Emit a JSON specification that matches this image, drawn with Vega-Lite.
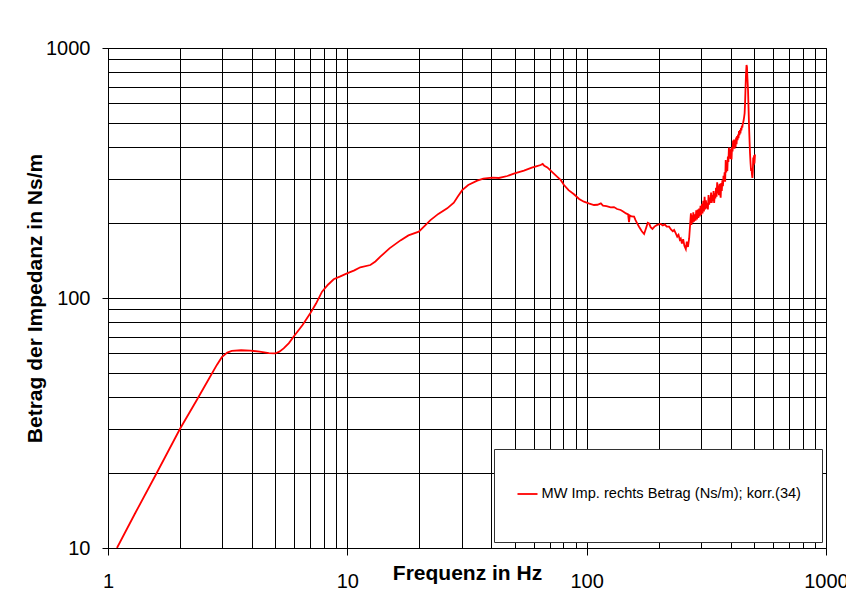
{
  "$schema": "https://vega.github.io/schema/vega-lite/v6.json",
  "width": 718,
  "height": 500,
  "autosize": {"type": "none"},
  "padding": {"left": 108, "top": 48, "right": 20, "bottom": 47},
  "background": "white",
  "config": {
    "font": "Liberation Sans",
    "view": {"stroke": "#000", "strokeWidth": 1},
    "axis": {"labelFont": "Liberation Sans", "titleFont": "Liberation Sans", "labelColor": "#000", "titleColor": "#000", "labelFontWeight": "normal"}
  },
  "data": {
    "values": [
      {"f": 1.09, "z": 10}, {"f": 1.3, "z": 13.8}, {"f": 1.6, "z": 20}, {"f": 2.0, "z": 30},
      {"f": 2.35, "z": 39.1}, {"f": 2.67, "z": 48.4}, {"f": 2.85, "z": 54}, {"f": 2.99, "z": 58},
      {"f": 3.15, "z": 60.5}, {"f": 3.29, "z": 61.4}, {"f": 3.6, "z": 61.8}, {"f": 3.93, "z": 61.6},
      {"f": 4.3, "z": 61}, {"f": 4.7, "z": 60.2}, {"f": 5.0, "z": 60}, {"f": 5.2, "z": 61},
      {"f": 5.42, "z": 62.9}, {"f": 5.7, "z": 66}, {"f": 5.96, "z": 70}, {"f": 6.5, "z": 78},
      {"f": 7.0, "z": 86.8}, {"f": 7.4, "z": 95}, {"f": 7.84, "z": 106}, {"f": 8.3, "z": 113},
      {"f": 8.77, "z": 118.8}, {"f": 9.35, "z": 122}, {"f": 9.97, "z": 125.5}, {"f": 10.7, "z": 129},
      {"f": 11.33, "z": 132.7}, {"f": 12.48, "z": 135.5}, {"f": 13.1, "z": 140}, {"f": 13.74, "z": 146.3},
      {"f": 15.0, "z": 158}, {"f": 16.67, "z": 170}, {"f": 18.0, "z": 178}, {"f": 19.89, "z": 184.2},
      {"f": 21.0, "z": 194}, {"f": 22.25, "z": 205}, {"f": 24.0, "z": 217}, {"f": 26.14, "z": 228.4},
      {"f": 27.86, "z": 240.5}, {"f": 29.0, "z": 255}, {"f": 30.2, "z": 270}, {"f": 32.0, "z": 283},
      {"f": 34.89, "z": 294.6}, {"f": 37.0, "z": 300}, {"f": 40.3, "z": 303}, {"f": 43.0, "z": 302},
      {"f": 46.6, "z": 307.6}, {"f": 50.0, "z": 315}, {"f": 54.7, "z": 323}, {"f": 59.0, "z": 332},
      {"f": 62.0, "z": 337}, {"f": 64.2, "z": 340.4}, {"f": 65.5, "z": 344}, {"f": 66.5, "z": 338},
      {"f": 68.5, "z": 333}, {"f": 72.0, "z": 318}, {"f": 75.4, "z": 305}, {"f": 78.0, "z": 296},
      {"f": 80.4, "z": 283}, {"f": 84.0, "z": 270}, {"f": 88.5, "z": 260}, {"f": 93.0, "z": 249},
      {"f": 97.4, "z": 242.8}, {"f": 102.0, "z": 239}, {"f": 107.3, "z": 235.5}, {"f": 111.0, "z": 236},
      {"f": 114.6, "z": 239}, {"f": 117.0, "z": 234}, {"f": 121.0, "z": 233}, {"f": 126.0, "z": 230.6},
      {"f": 130.0, "z": 231}, {"f": 134.0, "z": 227}, {"f": 138.7, "z": 224.9}, {"f": 142.0, "z": 222},
      {"f": 146.0, "z": 218}, {"f": 149.0, "z": 216}, {"f": 150.3, "z": 201}, {"f": 151.5, "z": 214},
      {"f": 154.0, "z": 212}, {"f": 157.8, "z": 211.5}, {"f": 160.0, "z": 205}, {"f": 163.0, "z": 198},
      {"f": 165.5, "z": 192.8}, {"f": 170.0, "z": 185}, {"f": 173.8, "z": 180.3}, {"f": 177.0, "z": 190},
      {"f": 180.0, "z": 200}, {"f": 182.3, "z": 198.9}, {"f": 185.0, "z": 192}, {"f": 188.3, "z": 189},
      {"f": 192.0, "z": 193}, {"f": 197.0, "z": 196}, {"f": 204.0, "z": 197.7}, {"f": 208.0, "z": 195},
      {"f": 212.0, "z": 197}, {"f": 216.0, "z": 193}, {"f": 221.0, "z": 192.8}, {"f": 225.0, "z": 188},
      {"f": 229.0, "z": 185}, {"f": 232.0, "z": 187}, {"f": 235.7, "z": 181.5}, {"f": 239.0, "z": 176},
      {"f": 242.0, "z": 179}, {"f": 245.0, "z": 171}, {"f": 247.3, "z": 173}, {"f": 250.0, "z": 165},
      {"f": 253.0, "z": 172}, {"f": 256.0, "z": 162}, {"f": 259.6, "z": 157}, {"f": 262.0, "z": 168},
      {"f": 265.0, "z": 160}, {"f": 268.0, "z": 173}, {"f": 270.5, "z": 196}, {"f": 272.6, "z": 218},
      {"f": 274, "z": 196}, {"f": 276, "z": 214}, {"f": 277.5, "z": 200}, {"f": 279, "z": 220},
      {"f": 281, "z": 202}, {"f": 283, "z": 216}, {"f": 285, "z": 204}, {"f": 287, "z": 224},
      {"f": 289, "z": 206}, {"f": 291, "z": 226}, {"f": 293, "z": 209}, {"f": 295, "z": 228},
      {"f": 297, "z": 212}, {"f": 299, "z": 234}, {"f": 301, "z": 215}, {"f": 303, "z": 238},
      {"f": 305, "z": 218}, {"f": 307, "z": 245}, {"f": 309, "z": 222}, {"f": 311, "z": 254},
      {"f": 313, "z": 226}, {"f": 315, "z": 246}, {"f": 317, "z": 228}, {"f": 319, "z": 240},
      {"f": 321, "z": 226}, {"f": 323, "z": 258}, {"f": 325, "z": 236}, {"f": 327, "z": 252},
      {"f": 329, "z": 240}, {"f": 331, "z": 264}, {"f": 333, "z": 240}, {"f": 335, "z": 258},
      {"f": 337, "z": 244}, {"f": 339, "z": 268}, {"f": 341, "z": 240}, {"f": 343, "z": 262},
      {"f": 345, "z": 250}, {"f": 347, "z": 276}, {"f": 349, "z": 254}, {"f": 351, "z": 290},
      {"f": 353, "z": 262}, {"f": 355, "z": 282}, {"f": 357, "z": 258}, {"f": 359, "z": 286},
      {"f": 361, "z": 262}, {"f": 363, "z": 252}, {"f": 365, "z": 288}, {"f": 367, "z": 268},
      {"f": 369, "z": 296}, {"f": 371, "z": 280}, {"f": 373, "z": 308}, {"f": 375, "z": 292},
      {"f": 377, "z": 318}, {"f": 379, "z": 292}, {"f": 381, "z": 356}, {"f": 383, "z": 318},
      {"f": 385, "z": 338}, {"f": 387, "z": 322}, {"f": 389, "z": 368}, {"f": 391, "z": 350},
      {"f": 393, "z": 400}, {"f": 395, "z": 372}, {"f": 397, "z": 390}, {"f": 399, "z": 360},
      {"f": 401, "z": 396}, {"f": 403, "z": 358}, {"f": 405, "z": 402}, {"f": 407, "z": 386},
      {"f": 409, "z": 426}, {"f": 411, "z": 400}, {"f": 413, "z": 430}, {"f": 415, "z": 396},
      {"f": 417, "z": 424}, {"f": 419, "z": 402}, {"f": 421, "z": 438}, {"f": 423, "z": 412},
      {"f": 425, "z": 444}, {"f": 427, "z": 428}, {"f": 429, "z": 450}, {"f": 431, "z": 436},
      {"f": 433, "z": 465}, {"f": 435, "z": 448}, {"f": 437, "z": 470}, {"f": 439, "z": 455},
      {"f": 441, "z": 478}, {"f": 443, "z": 468}, {"f": 445, "z": 488}, {"f": 447, "z": 480},
      {"f": 449, "z": 498}, {"f": 451, "z": 505}, {"f": 453, "z": 515}, {"f": 455, "z": 530},
      {"f": 457.0, "z": 548}, {"f": 459.0, "z": 600}, {"f": 461.0, "z": 690},
      {"f": 463.0, "z": 780}, {"f": 465.5, "z": 855}, {"f": 467.5, "z": 840}, {"f": 469.5, "z": 760},
      {"f": 472.3, "z": 679}, {"f": 475.0, "z": 560}, {"f": 477.0, "z": 484}, {"f": 479.5, "z": 420},
      {"f": 481.4, "z": 379}, {"f": 484.0, "z": 345}, {"f": 486.5, "z": 322}, {"f": 488.5, "z": 330},
      {"f": 490.5, "z": 312}, {"f": 492.5, "z": 302}, {"f": 494.5, "z": 320}, {"f": 496.5, "z": 365},
      {"f": 498.5, "z": 340}, {"f": 500.5, "z": 372}, {"f": 502.5, "z": 345}, {"f": 505.0, "z": 375}
    ]
  },
  "mark": {"type": "line", "strokeWidth": 1.8, "clip": true},
  "encoding": {
    "x": {
      "field": "f",
      "type": "quantitative",
      "scale": {"type": "log", "domain": [1, 1000], "nice": false},
      "axis": {
        "values": [1, 2, 3, 4, 5, 6, 7, 8, 9, 10, 20, 30, 40, 50, 60, 70, 80, 90, 100, 200, 300, 400, 500, 600, 700, 800, 900, 1000],
        "grid": true,
        "gridColor": "#000",
        "gridWidth": 1,
        "gridOpacity": 1,
        "domain": true,
        "domainColor": "#000",
        "domainWidth": 1,
        "ticks": true,
        "tickColor": "#000",
        "tickSize": 7,
        "tickWidth": 1,
        "tickOpacity": {"condition": {"test": "datum.value == 1 || datum.value == 10 || datum.value == 100 || datum.value == 1000", "value": 1}, "value": 0},
        "labelExpr": "(datum.value == 1 || datum.value == 10 || datum.value == 100 || datum.value == 1000) ? '' + datum.value : ''",
        "labelFontSize": 20,
        "labelPadding": 16,
        "labelOverlap": false,
        "labelFlush": false,
        "labelBound": false,
        "title": "Frequenz in Hz",
        "titleFontSize": 21,
        "titleFontWeight": "bold",
        "titleY": 31,
        "titleBaseline": "alphabetic"
      }
    },
    "y": {
      "field": "z",
      "type": "quantitative",
      "scale": {"type": "log", "domain": [10, 1000], "nice": false},
      "axis": {
        "values": [10, 20, 30, 40, 50, 60, 70, 80, 90, 100, 200, 300, 400, 500, 600, 700, 800, 900, 1000],
        "grid": true,
        "gridColor": "#000",
        "gridWidth": 1,
        "gridOpacity": 1,
        "domain": true,
        "domainColor": "#000",
        "domainWidth": 1,
        "ticks": true,
        "tickColor": "#000",
        "tickSize": 6,
        "tickWidth": 1,
        "tickOpacity": {"condition": {"test": "datum.value == 10 || datum.value == 100 || datum.value == 1000", "value": 1}, "value": 0},
        "labelExpr": "(datum.value == 10 || datum.value == 100 || datum.value == 1000) ? '' + datum.value : ''",
        "labelFontSize": 20,
        "labelPadding": 12,
        "labelOverlap": false,
        "labelFlush": false,
        "labelBound": false,
        "title": "Betrag der Impedanz in Ns/m",
        "titleFontSize": 21,
        "titleFontWeight": "bold",
        "titleAngle": 270,
        "titleX": -67,
        "titleBaseline": "alphabetic"
      }
    },
    "color": {
      "datum": "MW Imp. rechts Betrag (Ns/m); korr.(34)",
      "type": "nominal",
      "scale": {"range": ["#FF0000"]},
      "legend": {
        "title": null,
        "orient": "none",
        "legendX": 386,
        "legendY": 401,
        "padding": 21,
        "fillColor": "#FFFFFF",
        "strokeColor": "#333333",
        "symbolType": "M-0.44,0L0.44,0M0,-1M0,1",
        "symbolSize": 2070,
        "symbolStrokeWidth": 1.8,
        "symbolStrokeColor": "#FF0000",
        "symbolFillColor": "transparent",
        "symbolOffset": -11.5,
        "labelOffset": -10,
        "labelFont": "Liberation Sans",
        "labelFontSize": 14.6,
        "labelColor": "#000",
        "labelLimit": 600
      }
    }
  }
}
